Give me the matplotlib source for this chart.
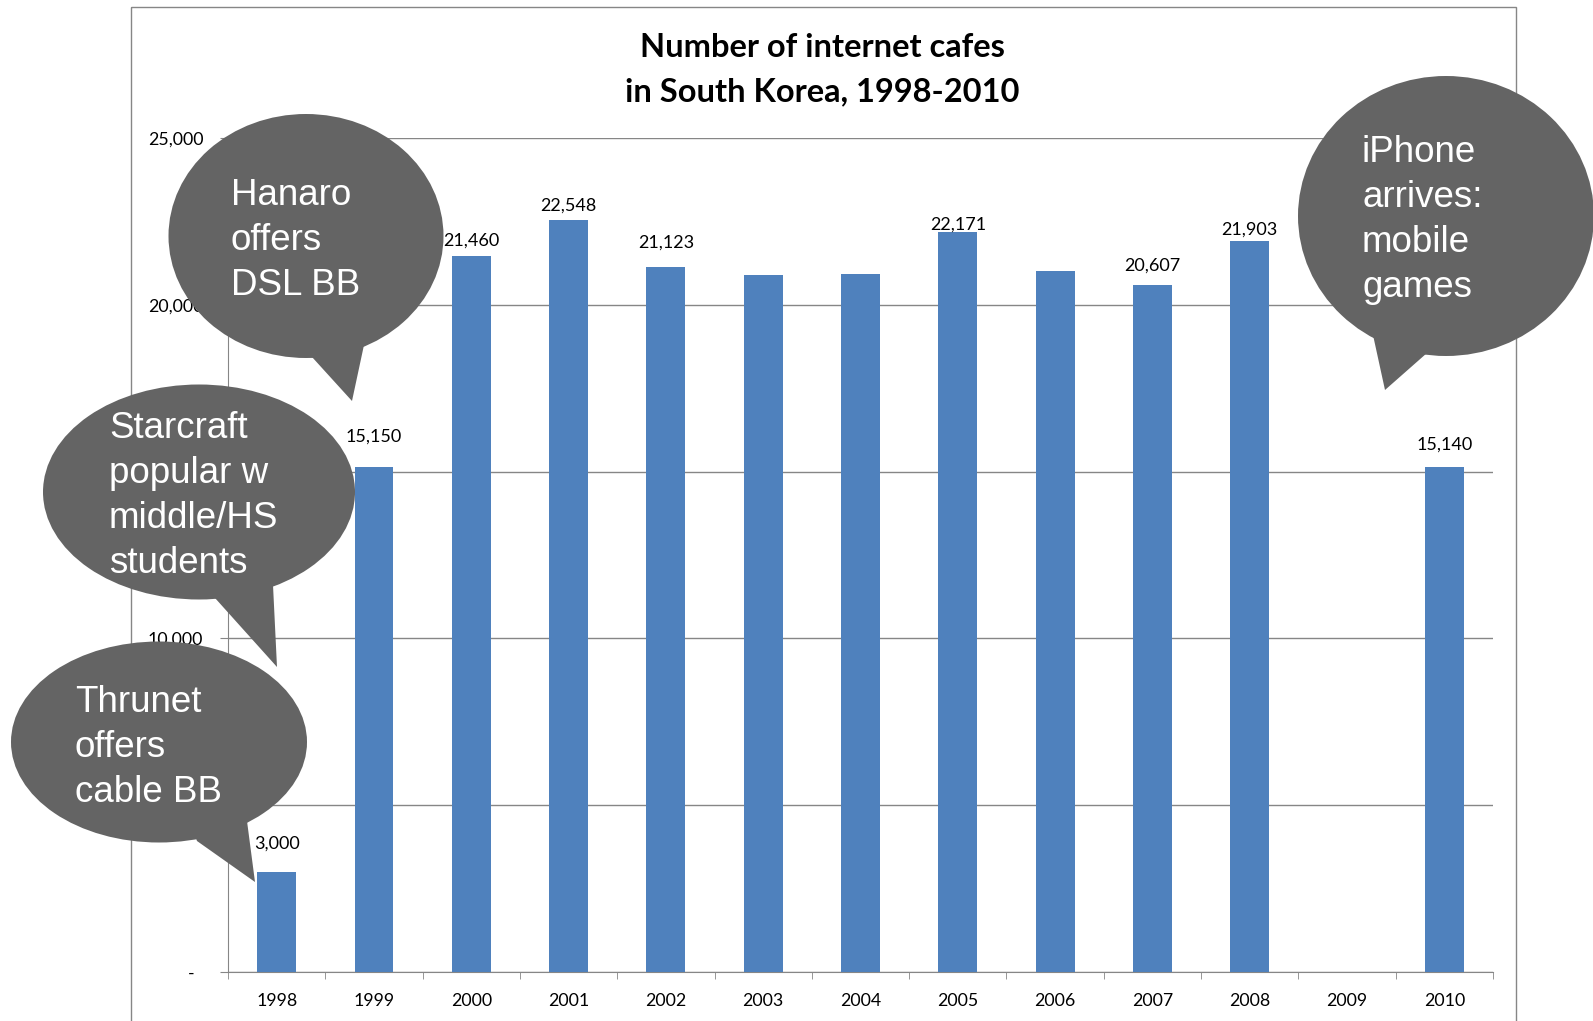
import matplotlib.pyplot as plt
import numpy as np
from matplotlib.patches import Ellipse, Polygon, Rectangle
from matplotlib.ticker import FuncFormatter, MultipleLocator, FixedLocator

# data
years = ['1998', '1999', '2000', '2001', '2002', '2003', '2004',
         '2005', '2006', '2007', '2008', '2009', '2010']
cafes = [3000, 15150, 21460, 22548, 21123, 20880, 20920,
         22171, 21020, 20607, 21903, np.nan, 15140]
labelled = ['1998', '1999', '2000', '2001', '2002', '2005', '2007', '2008', '2010']
title_lines = ['Number of internet cafes', 'in South Korea, 1998-2010']

notes = [['Hanaro', 'offers', 'DSL BB'],
         ['Starcraft', 'popular w', 'middle/HS', 'students'],
         ['Thrunet', 'offers', 'cable BB'],
         ['iPhone', 'arrives:', 'mobile', 'games']]

W, H = 1593, 1021
fig = plt.figure(figsize=(W / 100, H / 100), dpi=100)

gray = '#868686'
blue = '#4F81BD'
bubble = '#646464'

# main chart
ax = fig.add_axes([228 / W, 1 - 972 / H, (1493 - 228) / W, (972 - 138) / H])
x = np.arange(len(years))
ax.bar(x, cafes, width=0.4, color=blue, zorder=3)

# label offsets (px) above the bar tops, as placed in the original
label_pad = [23, 25, 10, 9.5, 20, 2.5, 14, 7, 17]
for yr, pad in zip(labelled, label_pad):
    i = years.index(yr)
    ax.annotate(f'{cafes[i]:,.0f}', (i, cafes[i]), xytext=(0, pad * 0.72),
                textcoords='offset points', ha='center', va='baseline',
                fontsize=13, family='Lato', color='black')

ax.set_xlim(-0.5, len(years) - 0.5)
ax.set_ylim(0, 25000)
ax.yaxis.set_major_locator(MultipleLocator(5000))
ax.yaxis.set_major_formatter(FuncFormatter(lambda v, p: '-  ' if v == 0 else f'{v:,.0f}'))
ax.grid(axis='y', color=gray, lw=1)
ax.set_axisbelow(True)
for s in ['top', 'right']:
    ax.spines[s].set_visible(False)
for s in ['left', 'bottom']:
    ax.spines[s].set_color(gray)
ax.tick_params(axis='y', length=5.8, color=gray, pad=12, labelsize=12.8)
ax.set_xticks(x)
ax.set_xticklabels(years)
ax.xaxis.set_minor_locator(FixedLocator(np.arange(-0.5, len(years), 1)))
ax.tick_params(axis='x', which='major', length=0, pad=15, labelsize=12.8)
ax.tick_params(axis='x', which='minor', length=5, color=gray)
for lab in ax.get_xticklabels() + ax.get_yticklabels():
    lab.set_family('Lato')

# overlay in pixel coordinates for the frame, title and callouts
ov = fig.add_axes([0, 0, 1, 1])
ov.set_xlim(0, W)
ov.set_ylim(H, 0)
ov.axis('off')
ov.set_zorder(5)

ov.add_patch(Rectangle((130.5, 7.5), 1516 - 130.5, 1100, fill=False, ec=gray, lw=1))

for k, line in enumerate(title_lines):
    ov.text(822, 57 + 44.5 * k, line, ha='center', va='baseline',
            fontsize=23.5, fontweight='bold', family='Lato')

shapes = [((306, 236), 275, 244, [(312, 357), (352, 401), (364, 345)], 231, 205),
          ((199, 492), 312, 215, [(215, 598), (277, 667), (273, 585)], 109, 438),
          ((159, 742), 296, 201, [(197, 841), (255, 882), (247, 821)], 75, 712),
          ((1446, 216), 296, 280, [(1373, 335), (1385, 390), (1427, 353)], 1362, 162)]

for (c, w, h, tail, tx, ty), lines in zip(shapes, notes):
    ov.add_patch(Ellipse(c, w, h, color=bubble, lw=0))
    ov.add_patch(Polygon(tail + [c], closed=True, color=bubble, lw=0))
    for k, line in enumerate(lines):
        ov.text(tx, ty + 45 * k, line, ha='left', va='baseline', color='white',
                fontsize=26.5, family='Liberation Sans')

fig.savefig('out.png', dpi=100)
